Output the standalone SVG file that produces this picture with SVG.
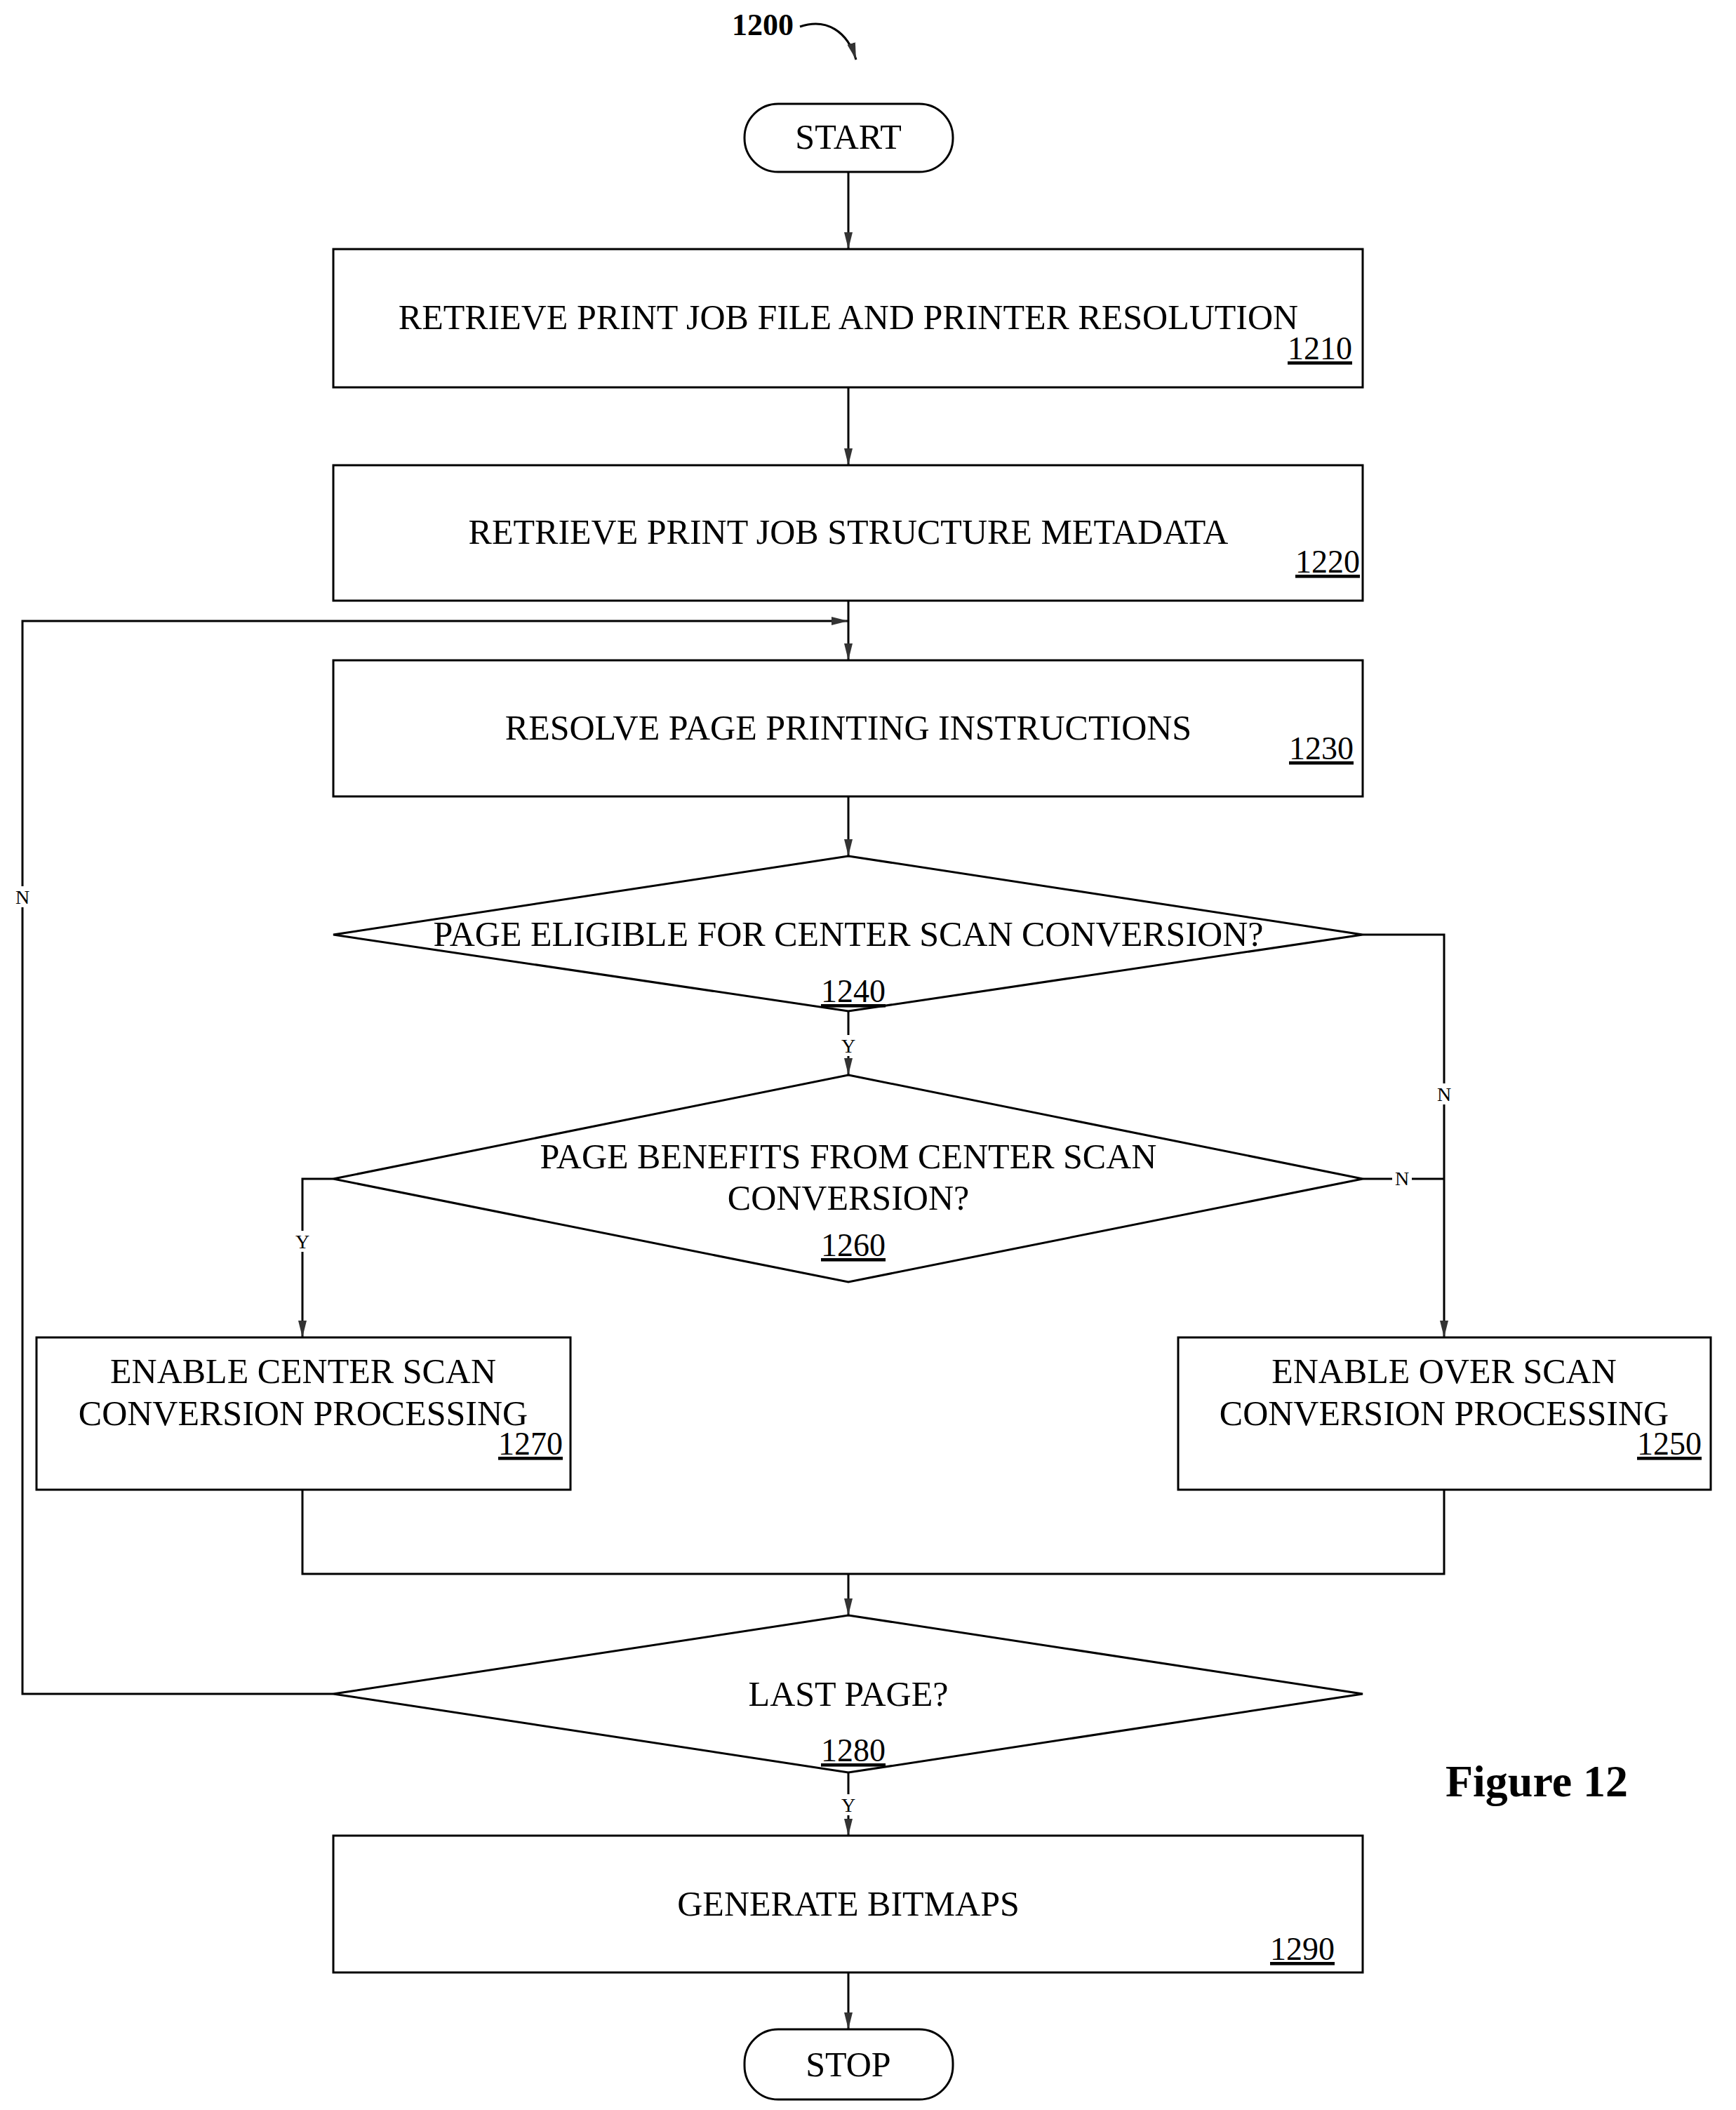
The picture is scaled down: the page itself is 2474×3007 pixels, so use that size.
<svg xmlns="http://www.w3.org/2000/svg" width="2474" height="3007" viewBox="0 0 2474 3007">
<style>
.s{fill:#fff;stroke:#000;stroke-width:3}
.t{font-family:"Liberation Serif",serif;font-size:50px;text-anchor:middle;fill:#000}
.n{font-family:"Liberation Serif",serif;font-size:46px;text-anchor:end;text-decoration:underline;fill:#000}
.l{font-family:"Liberation Serif",serif;font-size:28px;text-anchor:middle;fill:#000}
.c{fill:none;stroke:#000;stroke-width:3}
</style>
<defs>
<marker id="a" markerWidth="24" markerHeight="12" refX="24" refY="6" orient="auto" markerUnits="userSpaceOnUse">
<path d="M0,0 L24,6 L0,12 Z" fill="#333"/>
</marker>
</defs>
<rect width="2474" height="3007" fill="#fff"/>
<text x="1043" y="50" style="font-family:'Liberation Serif',serif;font-size:44px;font-weight:bold">1200</text>
<path d="M1140,38 C1178,25 1208,45 1220,85" class="c" marker-end="url(#a)"/>
<g id="start"><rect x="1061" y="148" width="297" height="97" rx="48" class="s"/><text x="1209" y="212" class="t">START</text></g>
<g id="n1210"><rect x="475" y="355" width="1467" height="197" class="s"/><text x="1209" y="469" class="t">RETRIEVE PRINT JOB FILE AND PRINTER RESOLUTION</text><text x="1927" y="512" class="n">1210</text></g>
<g id="n1220"><rect x="475" y="663" width="1467" height="193" class="s"/><text x="1209" y="775" class="t">RETRIEVE PRINT JOB STRUCTURE METADATA</text><text x="1938" y="816" class="n">1220</text></g>
<g id="n1230"><rect x="475" y="941" width="1467" height="194" class="s"/><text x="1209" y="1054" class="t">RESOLVE PAGE PRINTING INSTRUCTIONS</text><text x="1929" y="1082" class="n">1230</text></g>
<g id="n1240"><polygon points="1209,1220 1942,1332 1209,1441 475,1332" class="s"/><text x="1209" y="1348" class="t">PAGE ELIGIBLE FOR CENTER SCAN CONVERSION?</text><text x="1262" y="1428" class="n">1240</text></g>
<g id="n1260"><polygon points="1209,1532 1942,1680 1209,1827 475,1680" class="s"/><text x="1209" y="1665" class="t">PAGE BENEFITS FROM CENTER SCAN</text><text x="1209" y="1724" class="t">CONVERSION?</text><text x="1262" y="1790" class="n">1260</text></g>
<g id="n1270"><rect x="52" y="1906" width="761" height="217" class="s"/><text x="432" y="1971" class="t">ENABLE CENTER SCAN</text><text x="432" y="2031" class="t">CONVERSION PROCESSING</text><text x="802" y="2073" class="n">1270</text></g>
<g id="n1250"><rect x="1679" y="1906" width="759" height="217" class="s"/><text x="2058" y="1971" class="t">ENABLE OVER SCAN</text><text x="2058" y="2031" class="t">CONVERSION PROCESSING</text><text x="2425" y="2073" class="n">1250</text></g>
<g id="n1280"><polygon points="1209,2302 1942,2414 1209,2526 475,2414" class="s"/><text x="1209" y="2431" class="t">LAST PAGE?</text><text x="1262" y="2510" class="n">1280</text></g>
<g id="n1290"><rect x="475" y="2616" width="1467" height="195" class="s"/><text x="1209" y="2730" class="t">GENERATE BITMAPS</text><text x="1902" y="2793" class="n">1290</text></g>
<g id="stop"><rect x="1061" y="2892" width="297" height="100" rx="48" class="s"/><text x="1209" y="2959" class="t">STOP</text></g>
<text x="2190" y="2560" style="font-family:'Liberation Serif',serif;font-size:64px;font-weight:bold;text-anchor:middle">Figure 12</text>
<g id="connectors">
<line x1="1209" y1="245" x2="1209" y2="355" class="c" marker-end="url(#a)"/>
<line x1="1209" y1="552" x2="1209" y2="663" class="c" marker-end="url(#a)"/>
<line x1="1209" y1="856" x2="1209" y2="941" class="c" marker-end="url(#a)"/>
<line x1="1209" y1="1135" x2="1209" y2="1220" class="c" marker-end="url(#a)"/>
<line x1="1209" y1="1441" x2="1209" y2="1532" class="c" marker-end="url(#a)"/>
<polyline points="1942,1332 2058,1332 2058,1906" class="c" marker-end="url(#a)"/>
<line x1="1942" y1="1680" x2="2058" y2="1680" class="c"/>
<polyline points="475,1680 431,1680 431,1906" class="c" marker-end="url(#a)"/>
<polyline points="431,2123 431,2243 2058,2243 2058,2123" class="c"/>
<line x1="1209" y1="2243" x2="1209" y2="2302" class="c" marker-end="url(#a)"/>
<polyline points="475,2414 32,2414 32,885 1209,885" class="c" marker-end="url(#a)"/>
<line x1="1209" y1="2526" x2="1209" y2="2616" class="c" marker-end="url(#a)"/>
<line x1="1209" y1="2811" x2="1209" y2="2892" class="c" marker-end="url(#a)"/>
<rect x="1194" y="1475" width="30" height="30" fill="#fff"/><text x="1209" y="1500" class="l">Y</text>
<rect x="2043" y="1544" width="30" height="30" fill="#fff"/><text x="2058" y="1569" class="l">N</text>
<rect x="1984" y="1665" width="28" height="30" fill="#fff"/><text x="1998" y="1689" class="l">N</text>
<rect x="416" y="1754" width="30" height="30" fill="#fff"/><text x="431" y="1779" class="l">Y</text>
<rect x="17" y="1263" width="30" height="30" fill="#fff"/><text x="32" y="1288" class="l">N</text>
<rect x="1194" y="2557" width="30" height="30" fill="#fff"/><text x="1209" y="2582" class="l">Y</text>
</g>
</svg>
